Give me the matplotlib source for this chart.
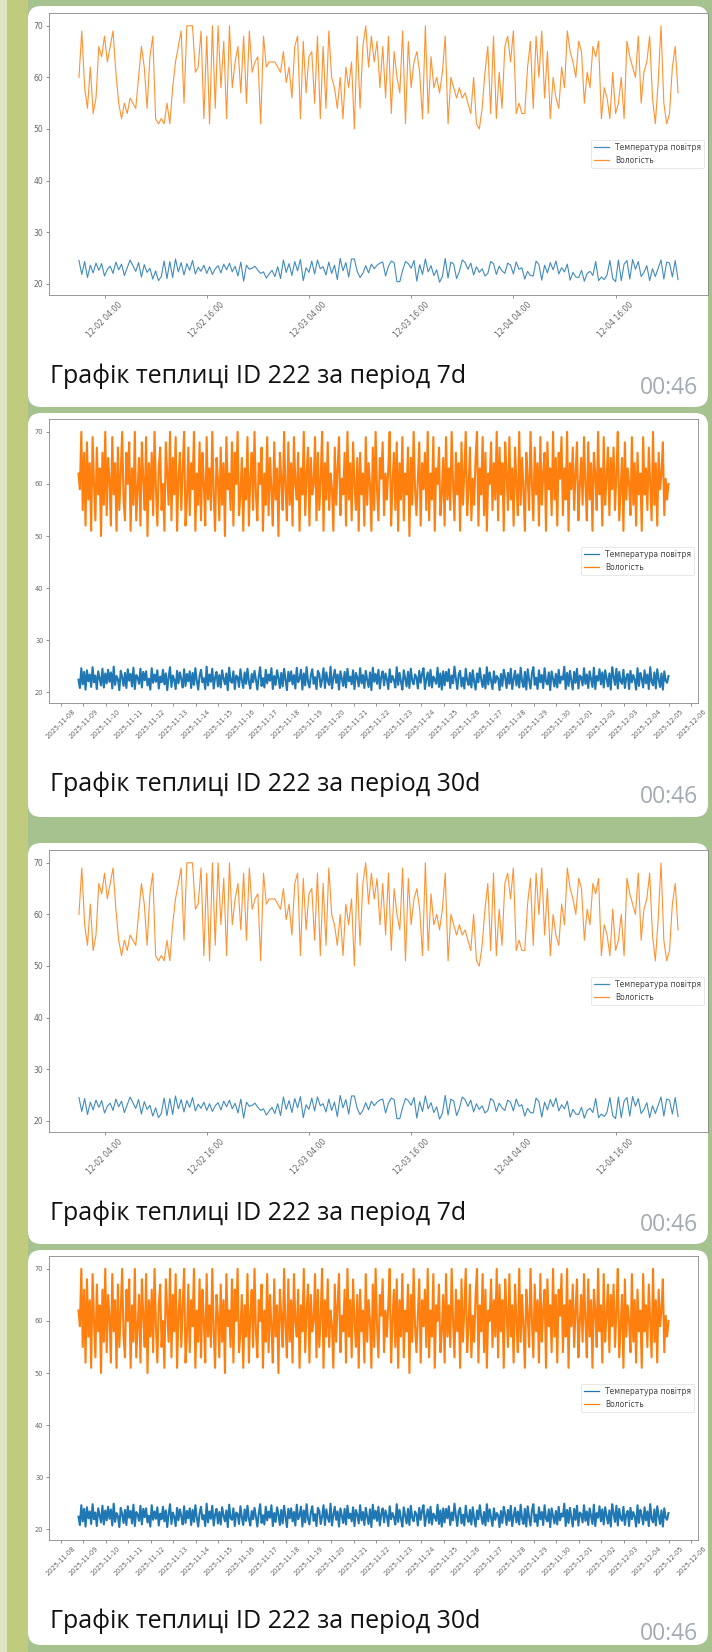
import matplotlib
matplotlib.use("Agg")
import matplotlib.pyplot as plt
import matplotlib.dates as mdates
from matplotlib.patches import FancyBboxPatch, Rectangle
import pandas as pd

W, H = 712, 1652

caption_7d = "Графік теплиці ID 222 за період 7d"
caption_30d = "Графік теплиці ID 222 за період 30d"
time_label = "00:46"
legend_labels = ["Температура повітря", "Вологість"]
y_ticks = [20, 30, 40, 50, 60, 70]

# 7d chart: readings every 20 minutes
times_7d = pd.date_range("2025-12-02 01:00", periods=212, freq="20min")
hum_7d = [
    60, 69, 58, 54, 62, 53, 56, 66, 64, 68, 63, 66, 69, 61, 55, 52,
    55, 53, 56, 55, 54, 60, 66, 62, 54, 64, 68, 52, 51, 52, 51, 55,
    51, 58, 63, 66, 69, 55, 70, 70, 70, 61, 62, 69, 52, 68, 51, 70,
    54, 70, 58, 67, 52, 70, 58, 63, 66, 57, 68, 55, 69, 61, 63, 64,
    51, 68, 62, 63, 63, 63, 62, 61, 65, 59, 62, 56, 66, 68, 52, 67,
    57, 64, 65, 55, 68, 52, 66, 54, 69, 60, 58, 54, 60, 52, 62, 58,
    63, 50, 68, 54, 66, 70, 62, 68, 63, 67, 58, 66, 56, 68, 53, 65,
    60, 57, 69, 51, 67, 58, 63, 65, 61, 52, 70, 53, 64, 58, 60, 57,
    61, 68, 51, 60, 58, 56, 58, 56, 57, 55, 53, 60, 51, 50, 54, 61,
    66, 53, 68, 52, 61, 54, 66, 68, 63, 69, 53, 55, 53, 53, 62, 67,
    54, 68, 60, 69, 56, 65, 52, 60, 56, 54, 62, 58, 69, 65, 63, 60,
    67, 65, 55, 61, 58, 66, 64, 67, 52, 58, 56, 52, 61, 53, 55, 60,
    52, 67, 64, 62, 60, 68, 55, 61, 63, 68, 56, 51, 59, 70, 55, 51, 53, 62, 66, 57,
]
temp_7d = [
    24.5, 21.8, 24.3, 21.2, 23.6, 22.1, 24.0, 22.6, 23.9, 21.5, 22.8, 23.4, 22.0, 24.2, 22.7, 23.8,
    21.6, 23.1, 24.6, 23.5, 22.4, 24.1, 21.3, 23.7, 22.2, 23.0, 20.9, 22.5, 20.6, 21.4, 24.4, 21.0,
    24.3, 21.2, 24.8, 22.3, 24.1, 21.7, 23.9, 22.6, 24.5, 21.9, 23.2, 22.4, 23.6, 22.0, 23.3, 21.8,
    22.9, 23.5, 22.1, 23.8, 22.7, 24.0, 22.3, 23.4, 21.5, 24.2, 20.5, 23.6, 22.8, 23.0, 23.4, 22.6,
    22.0, 22.3, 21.1, 21.9, 22.6, 21.4, 23.3, 21.0, 24.6, 22.2, 23.9, 21.6, 24.3, 22.5, 24.7, 20.6,
    23.1, 22.2, 24.4, 21.9, 24.6, 22.9, 23.3, 21.7, 24.2, 22.0, 23.6, 20.8, 24.9, 22.5, 24.1, 21.3,
    24.8, 24.8, 22.4, 21.2, 22.0, 23.5, 22.1, 23.8, 22.9, 23.6, 24.0, 24.2, 21.5, 23.4, 24.4, 24.1,
    20.4, 20.4, 22.6, 24.3, 23.9, 23.0, 24.5, 20.5, 23.7, 21.8, 24.8, 22.3, 23.5, 21.6, 22.7, 20.3,
    21.4, 24.9, 21.1, 24.2, 23.8, 21.0, 22.4, 24.6, 24.1, 22.8, 24.0, 21.7, 23.3, 22.2, 22.9, 21.5,
    22.0, 24.3, 23.9, 21.8, 23.4, 22.5, 22.0, 24.0, 23.6, 21.9, 24.2, 22.8, 23.1, 20.9, 22.4, 21.6,
    21.5, 24.4, 23.7, 20.7, 23.6, 22.1, 24.1, 22.7, 24.4, 21.9, 23.1, 22.3, 23.8, 20.7, 22.2, 21.3,
    21.2, 22.6, 20.5, 22.0, 22.4, 21.6, 24.3, 20.6, 21.3, 20.8, 21.7, 24.5, 21.0, 20.4, 24.6, 20.6,
    23.8, 24.5, 20.9, 24.7, 22.8, 24.3, 21.4, 22.2, 23.5, 20.6, 22.9, 21.4, 23.0, 24.6, 20.9, 24.2,
    24.0, 21.3, 24.5, 20.8,
]

# 30d chart: readings every 90 minutes
times_30d = pd.date_range("2025-11-08 19:00", periods=420, freq="90min")
hum_30d = [
    62, 59, 70, 55, 66, 52, 68, 57, 64, 51, 69, 60, 53, 67, 58, 63, 50, 66, 56, 70,
    54, 65, 61, 52, 69, 58, 64, 51, 67, 55, 62, 70, 57, 53, 66, 60, 68, 51, 63, 56,
    70, 53, 59, 65, 52, 68, 61, 55, 69, 50, 64, 57, 66, 54, 70, 59, 52, 63, 67, 55,
    60, 51, 68, 62, 56, 70, 53, 65, 58, 69, 51, 61, 66, 55, 63, 70, 52, 57, 67, 54,
    64, 59, 70, 51, 62, 56, 68, 53, 66, 60, 52, 69, 57, 63, 55, 70, 58, 51, 65, 61,
    53, 67, 56, 64, 50, 69, 59, 62, 55, 68, 52, 66, 60, 70, 54, 58, 65, 51, 63, 57,
    69, 52, 61, 66, 55, 70, 58, 53, 64, 60, 67, 51, 62, 56, 69, 54, 65, 59, 52, 68,
    57, 63, 50, 66, 61, 55, 70, 59, 53, 68, 56, 64, 52, 69, 60, 57, 66, 51, 63, 58,
    70, 54, 62, 67, 52, 65, 58, 60, 69, 53, 66, 55, 61, 70, 51, 64, 57, 68, 55, 62,
    59, 51, 67, 56, 63, 69, 54, 61, 58, 66, 52, 70, 57, 64, 53, 68, 60, 55, 65, 51,
    66, 58, 62, 52, 69, 56, 64, 60, 51, 67, 55, 70, 59, 53, 65, 61, 68, 54, 62, 57,
    63, 70, 52, 60, 66, 55, 68, 51, 64, 57, 69, 53, 62, 58, 67, 50, 65, 56, 70, 59,
    54, 61, 68, 52, 64, 59, 66, 55, 70, 53, 62, 57, 69, 51, 63, 60, 67, 54, 58, 65,
    52, 69, 57, 63, 55, 70, 60, 53, 66, 58, 64, 51, 68, 56, 62, 70, 54, 59, 67, 53,
    61, 56, 65, 70, 52, 63, 58, 69, 54, 66, 51, 62, 60, 68, 55, 64, 57, 70, 53, 67,
    58, 64, 51, 68, 62, 55, 69, 57, 63, 52, 67, 60, 54, 70, 56, 65, 59, 51, 66, 61,
    55, 70, 60, 53, 67, 58, 64, 52, 69, 56, 62, 66, 51, 68, 59, 63, 54, 70, 57, 65,
    52, 66, 61, 69, 54, 63, 57, 70, 51, 64, 59, 67, 55, 62, 68, 53, 60, 65, 56, 69,
    60, 53, 68, 57, 64, 51, 66, 62, 55, 70, 58, 63, 52, 69, 56, 61, 67, 54, 65, 59,
    67, 55, 62, 70, 53, 59, 65, 51, 68, 57, 63, 60, 54, 69, 56, 64, 52, 66, 58, 62,
    51, 69, 58, 63, 55, 67, 60, 53, 70, 56, 64, 52, 66, 59, 62, 68, 54, 61, 57, 60,
]
temp_30d = [
    22.4, 20.8, 24.6, 21.5, 23.9, 20.5, 24.2, 22.1, 23.4, 21.0, 24.8, 21.9, 23.2, 20.6, 24.0, 22.7, 21.3, 24.5, 20.9, 23.6,
    21.7, 24.3, 22.0, 23.8, 20.7, 24.9, 21.4, 23.1, 22.5, 20.4, 24.1, 22.9, 21.2, 23.7, 20.8, 24.4, 22.2, 23.5, 21.1, 24.7,
    20.6, 23.3, 22.8, 21.6, 24.5, 20.9, 23.9, 22.3, 24.0, 21.3, 22.6, 20.5, 24.6, 21.8, 23.4, 22.0, 24.2, 20.7, 23.0, 21.9,
    24.3, 21.5, 23.6, 20.4, 22.9, 24.8, 21.0, 23.2, 22.4, 20.6, 24.1, 21.7, 23.8, 22.5, 20.9, 24.4, 21.2, 23.5, 22.1, 24.0,
    20.8, 23.7, 21.4, 24.6, 22.2, 20.5, 23.1, 24.3, 21.9, 22.7, 20.6, 24.9, 21.3, 23.4, 22.0, 24.5, 20.7, 22.8, 23.9, 21.1,
    23.3, 20.9, 24.2, 22.6, 21.5, 23.6, 20.4, 24.7, 22.1, 21.8, 24.0, 20.6, 23.2, 22.9, 21.0, 24.4, 22.3, 20.8, 23.8, 21.6,
    24.5, 22.0, 20.7, 23.5, 21.9, 24.1, 22.4, 20.5, 23.0, 24.8, 21.2, 22.7, 20.9, 24.3, 21.7, 23.4, 22.2, 24.6, 20.6, 23.1,
    21.4, 24.2, 22.8, 20.8, 23.7, 21.1, 24.5, 22.5, 20.4, 23.9, 22.1, 24.0, 21.5, 23.3, 20.7, 24.7, 21.9, 22.6, 24.3, 20.5,
    23.6, 21.3, 24.8, 22.0, 20.9, 23.2, 24.4, 21.6, 22.9, 20.6, 24.1, 23.5, 21.0, 22.4, 24.6, 20.8, 23.8, 22.2, 21.4, 24.9,
    20.7, 22.7, 24.3, 21.8, 23.4, 20.5, 24.0, 22.6, 21.2, 23.9, 20.9, 24.5, 22.1, 23.0, 21.5, 24.2, 20.6, 23.7, 22.8, 21.1,
    24.6, 21.7, 23.3, 20.8, 24.1, 22.4, 21.0, 23.8, 20.4, 24.7, 22.0, 23.5, 21.6, 24.3, 20.7, 22.9, 24.0, 21.3, 23.6, 22.5,
    20.6, 24.4, 21.9, 23.1, 22.3, 20.9, 24.8, 21.4, 23.7, 22.0, 20.5, 24.2, 22.7, 21.1, 23.9, 20.8, 24.5, 22.2, 21.5, 23.4,
    22.9, 20.7, 24.1, 21.8, 23.5, 24.6, 20.6, 22.5, 23.8, 21.2, 24.3, 20.9, 23.0, 22.4, 21.6, 24.7, 21.0, 23.6, 20.5, 24.0,
    21.3, 23.9, 22.1, 24.4, 20.8, 23.2, 21.7, 24.9, 22.6, 20.6, 23.4, 24.1, 21.1, 22.8, 20.7, 24.5, 22.3, 21.4, 23.7, 20.9,
    24.2, 22.0, 20.5, 23.6, 21.9, 24.6, 22.4, 21.0, 23.3, 20.7, 24.8, 21.5, 23.8, 22.2, 20.6, 24.0, 21.8, 23.1, 22.7, 20.4,
    23.5, 21.2, 24.3, 22.9, 20.8, 23.7, 21.6, 24.5, 20.6, 22.5, 24.1, 21.3, 23.4, 20.9, 24.7, 22.1, 21.0, 23.9, 20.5, 24.4,
    22.3, 20.7, 23.6, 24.8, 21.4, 22.8, 20.6, 24.2, 21.9, 23.3, 20.8, 24.6, 22.0, 21.5, 23.8, 20.4, 24.0, 22.6, 21.1, 23.5,
    20.9, 24.3, 21.7, 23.0, 22.4, 24.9, 20.6, 23.7, 21.2, 24.1, 22.2, 20.5, 23.9, 21.8, 24.5, 20.7, 23.2, 22.9, 21.3, 24.6,
    21.6, 23.4, 20.8, 24.0, 22.5, 21.0, 24.7, 20.6, 23.1, 22.2, 24.4, 21.5, 23.8, 20.9, 24.2, 22.7, 21.1, 23.6, 20.5, 24.8,
    23.0, 21.4, 24.5, 20.7, 23.9, 22.1, 21.6, 24.3, 20.8, 22.8, 23.5, 20.6, 24.1, 21.9, 23.3, 22.4, 20.5, 24.6, 21.2, 23.7,
    22.6, 20.9, 24.2, 21.7, 23.4, 20.6, 24.8, 22.0, 21.3, 23.8, 20.7, 24.4, 22.5, 21.0, 23.6, 20.5, 24.0, 22.2, 21.8, 23.1,
]

caption_font = ["Open Sans", "DejaVu Sans"]


def px_rect(left, top, right, bottom):
    return [left / W, 1 - bottom / H, (right - left) / W, (bottom - top) / H]


def draw_bubble(ax, top, bottom, caption, caption_y, time_y):
    ax.add_patch(FancyBboxPatch((28, top), 680, bottom - top,
                                boxstyle="round,pad=0,rounding_size=13",
                                facecolor="white", edgecolor="none"))
    ax.text(50, caption_y, caption, fontsize=18, family=caption_font,
            va="baseline", ha="left", color="#111111")
    ax.text(698, time_y, time_label, fontsize=16.5, family=caption_font,
            va="baseline", ha="right", color="#a3abb3")


def draw_chart(fig, box, times, temp, hum, locator, fmt, tick_fs, lw, alpha):
    ax = fig.add_axes(px_rect(*box))
    ax.plot(times, temp, color="#1f77b4", linewidth=lw, alpha=alpha, label=legend_labels[0])
    ax.plot(times, hum, color="#ff7f0e", linewidth=lw, alpha=alpha, label=legend_labels[1])
    ax.xaxis.set_major_locator(locator)
    ax.xaxis.set_major_formatter(mdates.DateFormatter(fmt))
    ax.set_yticks(y_ticks)
    ax.tick_params(labelsize=tick_fs, length=2.5, width=0.5, colors="#666666", pad=1.5)
    plt.setp(ax.get_xticklabels(), rotation=45)
    for spine in ax.spines.values():
        spine.set_color("#888888")
        spine.set_linewidth(0.6)
    leg = ax.legend(loc="center right", fontsize=5.5, handlelength=2, borderpad=0.4,
                    labelspacing=0.5, framealpha=0.8)
    leg.get_frame().set_linewidth(0.4)
    leg.get_frame().set_edgecolor("#cccccc")
    for line in leg.get_lines():
        line.set_linewidth(0.9)
    for t in leg.get_texts():
        t.set_color("#444444")
    return ax


fig = plt.figure(figsize=(W / 100, H / 100), dpi=100)
fig.patch.set_facecolor("#a6c28f")

bg = fig.add_axes([0, 0, 1, 1])
bg.set_xlim(0, W)
bg.set_ylim(H, 0)
bg.axis("off")
bg.add_patch(Rectangle((0, 0), 28, H, facecolor="#c0cb7e", edgecolor="none"))
bg.add_patch(Rectangle((0, 0), 7, H, facecolor="#dfe4c4", edgecolor="none"))

shift = 837
for k in range(2):
    off = k * shift
    draw_bubble(bg, 6 + off, 407 + off, caption_7d, 383 + off, 394 + off)
    draw_bubble(bg, 413 + off, 817 + off if k == 0 else 1645, caption_30d, 791 + off, 803 + off)

for k in range(2):
    off = k * shift
    draw_chart(fig, (49, 13 + off, 708, 295 + off), times_7d, temp_7d, hum_7d,
               mdates.HourLocator(byhour=[4, 16]), "%m-%d %H:%M", 5.5, 0.8, 0.85)
    draw_chart(fig, (49, 419 + off, 698, 703 + off), times_30d, temp_30d, hum_30d,
               mdates.DayLocator(), "%Y-%m-%d", 4.8, 1.5, 1.0)

fig.savefig("out.png", dpi=100, facecolor=fig.get_facecolor())
